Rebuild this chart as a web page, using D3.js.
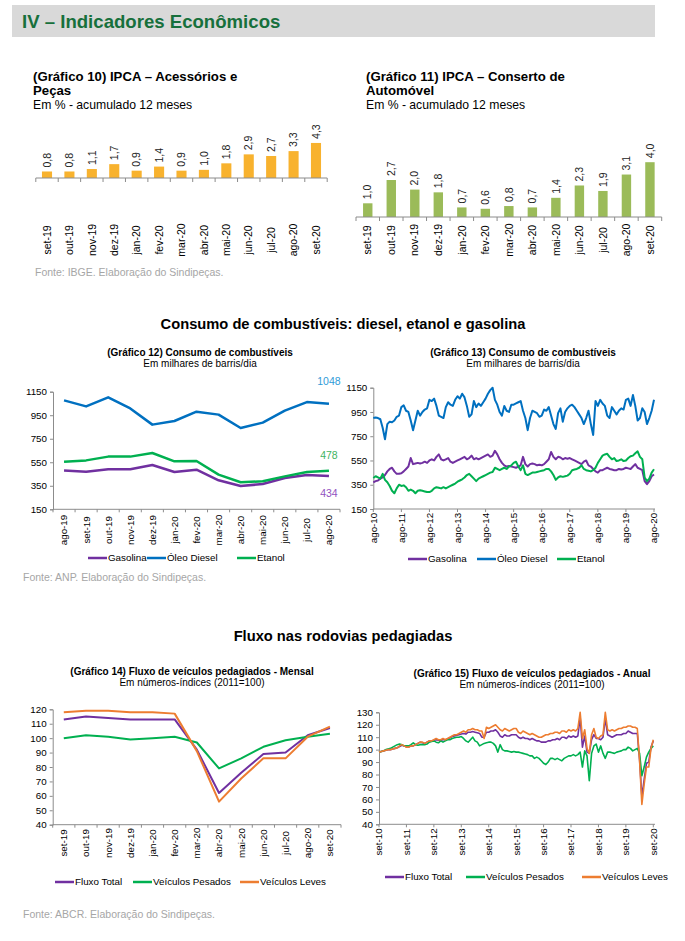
<!DOCTYPE html>
<html lang="pt">
<head>
<meta charset="UTF-8" />
<script src="https://d3js.org/d3.v7.min.js"></script>
<style>
  body { margin: 0; background: #fff; }
  svg { font-family: "Liberation Sans", Arial, sans-serif; }
</style>
</head>
<body>
<script>
// ---- dados ----
var meses10 = ["set-19","out-19","nov-19","dez-19","jan-20","fev-20","mar-20","abr-20","mai-20","jun-20","jul-20","ago-20","set-20"];
var acessorios = [0.8,0.8,1.1,1.7,0.9,1.4,0.9,1.0,1.8,2.9,2.7,3.3,4.3];
var conserto = [1.0,2.7,2.0,1.8,0.7,0.6,0.8,0.7,1.4,2.3,1.9,3.1,4.0];

var meses12 = ["ago-19","set-19","out-19","nov-19","dez-19","jan-20","fev-20","mar-20","abr-20","mai-20","jun-20","jul-20","ago-20"];
var gasolina12 = [479,470,490,490,527,467,487,397,348,365,416,442,434];
var diesel12 = [1076,1025,1102,1008,870,901,980,955,841,887,989,1062,1048];
var etanol12 = [555,566,598,598,629,558,561,445,380,388,430,467,478];

var ticks13 = ["ago-10","ago-11","ago-12","ago-13","ago-14","ago-15","ago-16","ago-17","ago-18","ago-19","ago-20"];
var diesel13 = [
  900,905,900,890,820,725,850,870,865,880,910,920,
  990,1005,960,950,880,800,880,960,920,950,970,980,
  1050,1040,1060,1000,920,910,900,990,1030,1010,1000,1050,
  1080,1060,1100,1070,1000,910,930,1040,990,1020,1000,1030,
  1060,1100,1130,1150,1050,1010,950,920,1000,960,950,1010,
  1010,1020,1030,1040,960,900,800,900,960,950,940,910,
  920,970,960,990,920,850,810,940,980,870,950,980,
  1000,1010,990,960,930,900,850,900,960,850,760,1040,
  1000,1050,1020,1000,920,900,990,960,930,960,980,970,
  1050,1060,1000,1090,1000,880,900,980,950,850,900,960,1050];
var gasolina13 = [
  370,380,385,400,410,430,460,480,490,460,440,440,
  445,460,480,500,570,520,525,530,525,530,540,530,
  550,560,550,580,600,560,550,560,570,540,530,540,
  550,560,570,580,560,570,590,560,570,560,570,580,
  590,600,580,590,630,600,560,530,510,500,505,500,
  495,490,500,510,580,520,500,520,525,520,510,515,
  510,520,540,560,620,580,560,580,575,560,570,565,
  570,560,550,540,530,520,540,550,510,500,480,460,
  450,470,470,480,490,480,475,470,470,480,475,480,
  490,485,480,500,520,490,480,470,380,355,380,420,434];
var etanol13 = [
  405,420,410,400,440,390,370,340,300,280,320,350,
  340,345,330,300,310,300,280,300,305,300,295,290,
  290,300,320,330,325,320,330,320,330,340,350,360,
  375,385,395,410,430,440,420,400,380,400,410,420,
  430,440,450,455,490,480,470,480,490,480,500,510,
  530,540,500,470,510,440,430,440,450,450,455,460,
  465,470,480,480,460,430,390,410,420,415,420,425,
  440,470,475,480,490,510,480,470,465,460,470,490,
  530,560,590,600,605,580,560,570,545,550,560,545,
  550,570,585,590,610,625,580,560,410,380,400,450,478];

var meses14 = ["set-19","out-19","nov-19","dez-19","jan-20","fev-20","mar-20","abr-20","mai-20","jun-20","jul-20","ago-20","set-20"];
var total14 = [113,115,114,113,113,113,92,62,76,89,90,102,107];
var pesados14 = [100,102,101,99,100,101,97,79,86,94,98.5,101,103];
var leves14 = [118,119,119,118,118,117,91,56,72,86,86,101,108];

var ticks15 = ["set-10","set-11","set-12","set-13","set-14","set-15","set-16","set-17","set-18","set-19","set-20"];
var total15 = [
  98,98.5,99,99.5,100,100,100.5,101,101.5,102.5,103.5,103,
  102,102,103,103,104,105,106,105.5,105,106,107,107,
  107.5,108,107.5,107.5,108,108,108.5,109.5,110.5,111,111.5,112,
  112.5,113,112.5,114,114,114.5,114,113.5,113,110,110,114,
  114,115,115,116,114,111,110,112,111,111,112,112,
  112,110,109,110,109,109,108,109,108,107,107,106,
  106,106,107,107,108,108,109,108,110,110,109,111,
  110,111,110,111,126,102,111,98,97,108,112,109,
  109,108,110,125,112,111,110,111,112,112,112,113,
  113,115,114,113,113,113,92,62,76,89,90,102,107];
var pesados15 = [
  98,98.5,99,100,100.5,101,102,103,104,104.5,104,103,
  103,103,104,105.5,104,103.5,104,104,104,104.5,106,106.5,
  107,106,105.5,107,106,107,108,108,109,109.5,110,110,
  110.5,109,107,106,108,110,107,106,103,104,105,105.5,
  106,106,105,103,98,104,100,99,99,98.5,98,98.5,
  98,98,97.5,97,96.5,96,95,95,93,94,93,91,
  89,88,90,93,93,92,93,92,91,93,94,95,
  95,96,95,96,98,86,99,95,75,97,103,104.5,
  98,103,97,93,98,98,97.5,97,98,98.5,99,100,
  100,102,101,99,100,101,97,79,86,94,98,101,103];
var leves15 = [
  98,98.5,99,99.5,100,100,100.5,101,101.5,103,104,103,
  102,102,103,103,104,105,106,106,105,106,107,107,
  108,109,108,108,109,108,109,110,111,112,112,113,
  114,115,114,116,116,117,116,116,115,115,109,118,
  117,118,119,120,118,116,115,117,116,115,116,117,
  117,114,113,115,114,113,112,113,112,111,110,110,
  111,112,112,113,113,114,114,113,115,115,114,116,
  115,116,115,117,130,109,116,101,97,112,117,110,
  109,111,112,130,116,115,116,115,116,117,117,118,
  118,119,119,118,118,117,91,56,72,86,86,101,108];

var roxo = "#7030a0", azul = "#0070c0", verde = "#00b050", laranja = "#ed7d31";
var axisCor = "#8c8c8c", fonteCor = "#a6a6a6";

var svg = d3.select("body").append("svg").attr("width", 685).attr("height", 941);

// cabeçalho
svg.append("rect").attr("x", 12).attr("y", 5).attr("width", 643).attr("height", 32).attr("fill", "#d9d9d9");
svg.append("text").attr("x", 22).attr("y", 28).attr("font-size", 18.6).attr("font-weight", "bold")
  .attr("fill", "#17703c").text("IV – Indicadores Econômicos");

function texto(x, y, t, size, opts) {
  opts = opts || {};
  return svg.append("text").attr("x", x).attr("y", y).attr("font-size", size)
    .attr("font-weight", opts.bold ? "bold" : "normal")
    .attr("text-anchor", opts.anchor || "start")
    .attr("fill", opts.fill || "#000").text(t);
}

// ---- gráfico de barras ----
function barras(cfg) {
  var x = d3.scaleBand().domain(cfg.cats).range(cfg.xr).paddingInner(cfg.pad).paddingOuter(cfg.pad / 2);
  var y = d3.scaleLinear().domain([0, cfg.ymax]).range([cfg.base, cfg.top]);
  var g = svg.append("g");
  g.selectAll("rect").data(cfg.vals).enter().append("rect")
    .attr("x", function (d, i) { return x(cfg.cats[i]); })
    .attr("y", function (d) { return y(d); })
    .attr("width", x.bandwidth())
    .attr("height", function (d) { return cfg.base - y(d); })
    .attr("fill", cfg.cor);
  g.selectAll("text.v").data(cfg.vals).enter().append("text").attr("class", "v")
    .attr("transform", function (d, i) {
      return "translate(" + (x(cfg.cats[i]) + x.bandwidth() / 2) + "," + (y(d) - 4) + ") rotate(-90)";
    })
    .attr("dy", "0.35em").attr("font-size", 10.5).attr("fill", "#222")
    .text(function (d) { return d.toFixed(1).replace(".", ","); });
  // eixo
  g.append("line").attr("x1", cfg.xr[0]).attr("x2", cfg.xr[1]).attr("y1", cfg.base).attr("y2", cfg.base)
    .attr("stroke", axisCor);
  var step = x.step();
  d3.range(cfg.cats.length + 1).forEach(function (i) {
    var xx = cfg.xr[0] + i * step;
    g.append("line").attr("x1", xx).attr("x2", xx).attr("y1", cfg.base).attr("y2", cfg.base + 4).attr("stroke", axisCor);
  });
  g.selectAll("text.c").data(cfg.cats).enter().append("text").attr("class", "c")
    .attr("transform", function (d) { return "translate(" + (x(d) + x.bandwidth() / 2) + "," + cfg.labY + ") rotate(-90)"; })
    .attr("dy", "0.35em").attr("text-anchor", "middle").attr("font-size", 10.5).text(function (d) { return d; });
}

texto(33, 81, "(Gráfico 10) IPCA – Acessórios e", 13.2, { bold: true });
texto(33, 95, "Peças", 13.2, { bold: true });
texto(33, 109, "Em % - acumulado 12 meses", 12.2);
barras({ cats: meses10, vals: acessorios, xr: [35.8, 327.2], pad: 0.55, ymax: 5, base: 178, top: 137.25, cor: "#f8b22e", labY: 240 });
texto(35, 276, "Fonte: IBGE. Elaboração do Sindipeças.", 10.5, { fill: fonteCor });

texto(366, 81, "(Gráfico 11) IPCA – Conserto de", 13.2, { bold: true });
texto(366, 95, "Automóvel", 13.2, { bold: true });
texto(366, 109, "Em % - acumulado 12 meses", 12.2);
barras({ cats: meses10, vals: conserto, xr: [356, 661.7], pad: 0.6, ymax: 4, base: 217, top: 162.2, cor: "#9bbb59", labY: 240 });

// ---- gráficos de linha ----
function linhas(cfg) {
  var g = svg.append("g");
  var y = d3.scaleLinear().domain(cfg.yd).range(cfg.yr);
  var xPos, n = cfg.series[0].vals.length;
  if (cfg.cats) {
    var xb = d3.scaleBand().domain(cfg.cats).range(cfg.xr);
    xPos = function (i) { return xb(cfg.cats[i]) + xb.bandwidth() / 2; };
  } else {
    xPos = d3.scaleLinear().domain([0, n - 1]).range([cfg.xr[0], cfg.xEnd]);
  }
  // eixo y
  var yAxis = g.append("g").attr("transform", "translate(" + cfg.xr[0] + ",0)")
    .call(d3.axisLeft(y).tickValues(cfg.yticks).tickSize(3).tickPadding(3).tickFormat(d3.format("d")));
  yAxis.select(".domain").attr("stroke", axisCor);
  yAxis.selectAll(".tick line").attr("stroke", axisCor);
  yAxis.selectAll("text").attr("font-size", 9.8).attr("fill", "#000").attr("font-family", "Liberation Sans, Arial, sans-serif");
  // eixo x
  g.append("line").attr("x1", cfg.xr[0]).attr("x2", cfg.xr[1]).attr("y1", cfg.yr[0]).attr("y2", cfg.yr[0]).attr("stroke", axisCor);
  var tickXs, labXs, labs;
  if (cfg.cats) {
    tickXs = d3.range(cfg.cats.length + 1).map(function (i) { return cfg.xr[0] + i * xb.step(); });
    labXs = cfg.cats.map(function (c, i) { return xPos(i); });
    labs = cfg.cats;
  } else {
    tickXs = cfg.ticks.map(function (t, i) { return xPos(i * 12); });
    labXs = tickXs;
    labs = cfg.ticks;
  }
  tickXs.forEach(function (xx) {
    g.append("line").attr("x1", xx).attr("x2", xx).attr("y1", cfg.yr[0]).attr("y2", cfg.yr[0] + 3).attr("stroke", axisCor);
  });
  labs.forEach(function (l, i) {
    g.append("text").attr("transform", "translate(" + labXs[i] + "," + cfg.labY + ") rotate(-90)")
      .attr("dy", "0.35em").attr("text-anchor", "middle").attr("font-size", 9.8).text(l);
  });
  // séries
  var line = d3.line().x(function (d, i) { return xPos(i); }).y(function (d) { return y(d); });
  cfg.series.forEach(function (s) {
    g.append("path").datum(s.vals).attr("d", line).attr("fill", "none")
      .attr("stroke", s.cor).attr("stroke-width", cfg.sw).attr("stroke-linejoin", "round");
  });
  // rótulos finais
  (cfg.endLabels || []).forEach(function (s) {
    g.append("text").attr("x", xPos(n - 1)).attr("y", y(s.val) + s.dy).attr("text-anchor", "middle")
      .attr("font-size", 10.5).attr("fill", s.cor).text(s.val);
  });
  // legenda
  cfg.legend.forEach(function (s) {
    g.append("line").attr("x1", s.x).attr("x2", s.x + 19).attr("y1", cfg.legY).attr("y2", cfg.legY)
      .attr("stroke", s.cor).attr("stroke-width", 2.5);
    g.append("text").attr("x", s.x + 20).attr("y", cfg.legY).attr("dy", "0.35em").attr("font-size", 9.8).text(s.nome);
  });
  // títulos
  texto(cfg.tx, cfg.ty, cfg.titulo, 10, { bold: true, anchor: "middle" });
  texto(cfg.tx, cfg.ty + 11, cfg.sub, 10, { anchor: "middle" });
}

texto(343, 329, "Consumo de combustíveis: diesel, etanol e gasolina", 14.7, { bold: true, anchor: "middle" });

linhas({
  cats: meses12, xr: [53, 340], yd: [150, 1150], yr: [509.3, 391.7], yticks: [150, 350, 550, 750, 950, 1150],
  labY: 530, sw: 2.5,
  series: [{ vals: gasolina12, cor: roxo }, { vals: diesel12, cor: azul }, { vals: etanol12, cor: verde }],
  endLabels: [{ val: 1048, cor: "#2f9bd8", dy: -19 }, { val: 478, cor: "#3fb35f", dy: -12 }, { val: 434, cor: "#9152c0", dy: 21 }],
  legY: 558, legend: [{ x: 88, cor: roxo, nome: "Gasolina" }, { x: 147, cor: azul, nome: "Óleo Diesel" }, { x: 237, cor: verde, nome: "Etanol" }],
  tx: 200, ty: 356, titulo: "(Gráfico 12) Consumo de combustíveis", sub: "Em milhares de barris/dia"
});
texto(23, 581, "Fonte: ANP. Elaboração do Sindipeças.", 10.5, { fill: fonteCor });

linhas({
  ticks: ticks13, xr: [373.3, 655], xEnd: 654, yd: [150, 1150], yr: [509, 387.7], yticks: [150, 350, 550, 750, 950, 1150],
  labY: 528, sw: 2,
  series: [{ vals: gasolina13, cor: roxo }, { vals: diesel13, cor: azul }, { vals: etanol13, cor: verde }],
  legY: 559, legend: [{ x: 408, cor: roxo, nome: "Gasolina" }, { x: 477, cor: azul, nome: "Óleo Diesel" }, { x: 557, cor: verde, nome: "Etanol" }],
  tx: 523, ty: 356, titulo: "(Gráfico 13) Consumo de combustíveis", sub: "Em milhares de barris/dia"
});

texto(343, 641, "Fluxo nas rodovias pedagiadas", 14.7, { bold: true, anchor: "middle" });

linhas({
  cats: meses14, xr: [52.7, 341], yd: [40, 120], yr: [824.7, 709.3], yticks: d3.range(40, 121, 10),
  labY: 843, sw: 2,
  series: [{ vals: total14, cor: roxo }, { vals: pesados14, cor: verde }, { vals: leves14, cor: laranja }],
  legY: 882, legend: [{ x: 55, cor: roxo, nome: "Fluxo Total" }, { x: 133, cor: verde, nome: "Veículos Pesados" }, { x: 240, cor: laranja, nome: "Veículos Leves" }],
  tx: 192, ty: 675, titulo: "(Gráfico 14) Fluxo de veículos pedagiados - Mensal", sub: "Em números-índices (2011=100)"
});
texto(23, 918, "Fonte: ABCR. Elaboração do Sindipeças.", 10.5, { fill: fonteCor });

linhas({
  ticks: ticks15, xr: [379, 655], xEnd: 653.3, yd: [40, 130], yr: [824.3, 712.3], yticks: d3.range(40, 131, 10),
  labY: 842, sw: 1.6,
  series: [{ vals: total15, cor: roxo }, { vals: pesados15, cor: verde }, { vals: leves15, cor: laranja }],
  legY: 877, legend: [{ x: 385, cor: roxo, nome: "Fluxo Total" }, { x: 466, cor: verde, nome: "Veículos Pesados" }, { x: 582, cor: laranja, nome: "Veículos Leves" }],
  tx: 532, ty: 677, titulo: "(Gráfico 15) Fluxo de veículos pedagiados - Anual", sub: "Em números-índices (2011=100)"
});
</script>
</body>
</html>
